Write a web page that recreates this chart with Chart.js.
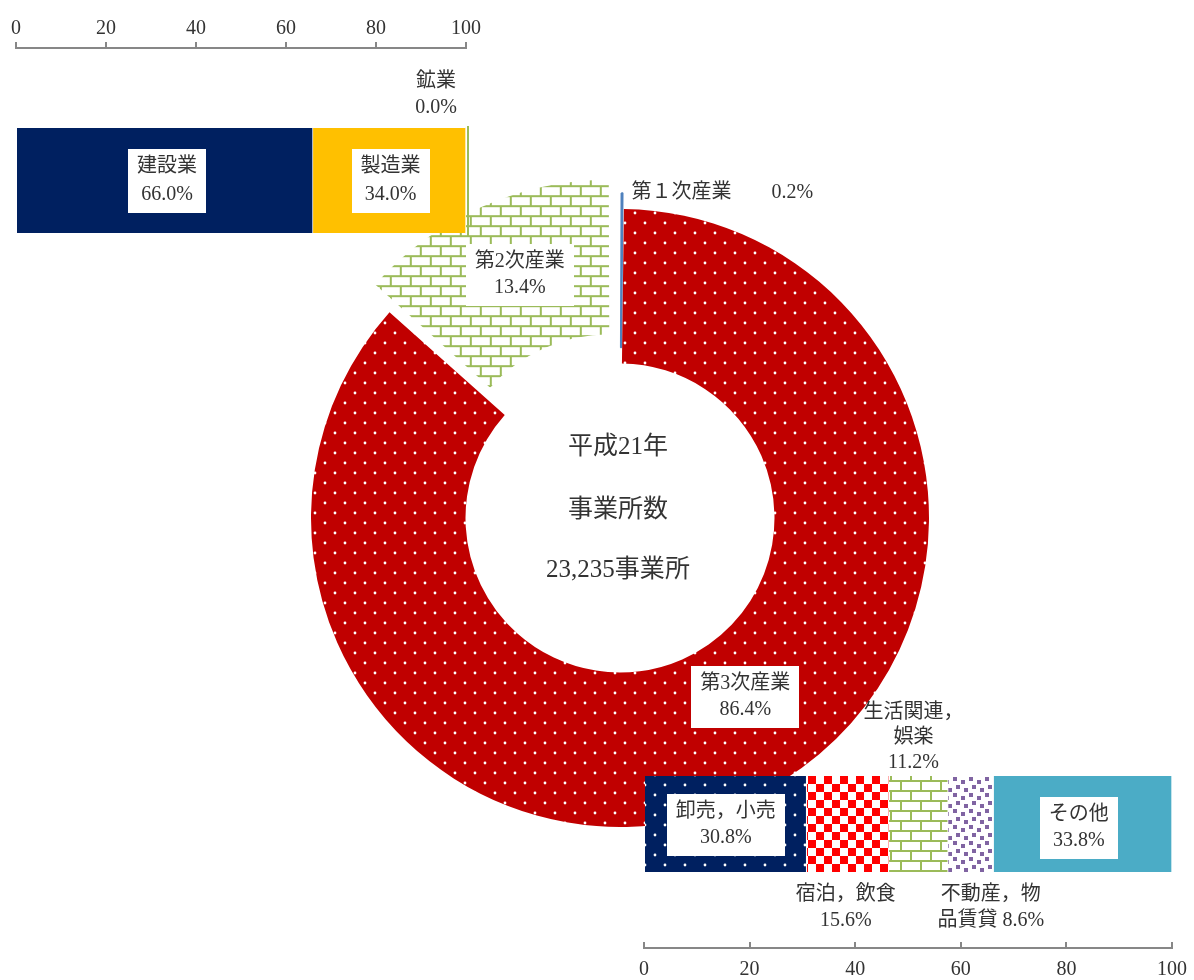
<!DOCTYPE html>
<html lang="ja">
<head>
<meta charset="UTF-8">
<title>事業所数 産業別構成比（平成21年）</title>
<script src="https://cdn.jsdelivr.net/npm/chart.js@4.4.1/dist/chart.umd.min.js"></script>
<style>
  html, body { margin: 0; padding: 0; background: #fff; }
  #stage { position: relative; width: 1194px; height: 980px; overflow: hidden; }
  #stage canvas { position: absolute; }
  #sectorChart { left: 270px; top: 168px; }
  #secondaryChart { left: 0; top: 0; }
  #tertiaryChart { left: 600px; top: 680px; }
</style>
</head>
<body>
<div id="stage">
  <canvas id="sectorChart" width="700" height="700"></canvas>
  <canvas id="secondaryChart" width="500" height="330"></canvas>
  <canvas id="tertiaryChart" width="614" height="300"></canvas>
</div>
<script>
// 産業3部門の構成比（%）: 12時から時計回りの並び
const sectorNames = ['第１次産業', '第3次産業', '第2次産業'];
const sectorShares = [0.2, 86.4, 13.4];
const centerTitle = ['平成21年', '事業所数'];
const totalEstablishments = 23235;

// 第2次産業の内訳（%）
const secondaryNames = ['建設業', '製造業', '鉱業'];
const secondaryShares = [66.0, 34.0, 0.0];

// 第3次産業の内訳（%）
const tertiaryNames = ['卸売，小売', '宿泊，飲食', '生活関連，\n娯楽', '不動産，物\n品賃貸', 'その他'];
const tertiaryShares = [30.8, 15.6, 11.2, 8.6, 33.8];

const axisTicks = [0, 20, 40, 60, 80, 100];

const COLORS = {
    navy: '#002060',
    gold: '#FFC000',
    green: '#9BBB59',
    blue: '#4F81BD',
    darkRed: '#C00000',
    red: '#FF0000',
    purple: '#8064A2',
    teal: '#4BACC6',
    text: '#333333',
    axis: '#878787'
};

const SERIF = '"Liberation Serif", "Noto Sans CJK JP", serif';

// 塗りパターン
function tile(w, h, paint) {
    const c = document.createElement('canvas');
    c.width = w;
    c.height = h;
    const g = c.getContext('2d');
    paint(g, w, h);
    return g.createPattern(c, 'repeat');
}

function dotted(bg) {
    return tile(20, 20, (g) => {
        g.fillStyle = bg;
        g.fillRect(0, 0, 20, 20);
        g.fillStyle = '#fff';
        [[5, 5], [15, 15]].forEach(([x, y]) => {
            g.beginPath();
            g.arc(x, y, 1.4, 0, Math.PI * 2);
            g.fill();
        });
    });
}

const brick = tile(20, 20, (g) => {
    g.fillStyle = '#fff';
    g.fillRect(0, 0, 20, 20);
    g.fillStyle = COLORS.green;
    g.fillRect(0, 0, 20, 2);
    g.fillRect(0, 10, 20, 2);
    g.fillRect(0, 2, 2, 8);
    g.fillRect(10, 12, 2, 8);
});

const checker = tile(16, 16, (g) => {
    g.fillStyle = '#fff';
    g.fillRect(0, 0, 16, 16);
    g.fillStyle = COLORS.red;
    g.fillRect(0, 0, 8, 8);
    g.fillRect(8, 8, 8, 8);
});

const confetti = tile(16, 16, (g) => {
    g.fillStyle = '#fff';
    g.fillRect(0, 0, 16, 16);
    g.fillStyle = COLORS.purple;
    [[1, 1], [9, 4], [4, 9], [12, 12]].forEach(([x, y]) => g.fillRect(x, y, 4, 4));
});

const redDots = dotted(COLORS.darkRed);
const navyDots = dotted(COLORS.navy);

// ラベル文字列
const pct = (v) => v.toFixed(1) + '%';
const stacked = (name, v) => [...name.split('\n'), pct(v)];
const inline = (name, v, sep) => {
    const parts = name.split('\n');
    parts[parts.length - 1] += sep + pct(v);
    return parts;
};

function drawLabel(ctx, x, y, lines, opt) {
    const lh = opt.lineHeight || 26;
    const padY = opt.padY ?? 5;
    ctx.font = `${opt.size || 20}px ${SERIF}`;
    const w = Math.max(...lines.map((t) => ctx.measureText(t).width));
    const h = lines.length * lh;
    if (opt.box) {
        ctx.fillStyle = '#fff';
        ctx.fillRect(Math.round(x - w / 2 - 9), Math.round(y - h / 2 - padY),
            Math.round(w + 18), Math.round(h + padY * 2));
    }
    ctx.fillStyle = COLORS.text;
    ctx.textBaseline = 'middle';
    ctx.textAlign = opt.align || 'center';
    lines.forEach((t, i) => ctx.fillText(t, x, y - h / 2 + lh * (i + 0.5)));
}

const segmentLabels = {
    id: 'segmentLabels',
    afterDatasetsDraw(chart, args, opts) {
        const ctx = chart.ctx;
        ctx.save();
        (opts.items || []).forEach((it) => {
            const el = chart.getDatasetMeta(it.ds || 0).data[it.idx || 0];
            const p = el.getCenterPoint();
            drawLabel(ctx, p.x + (it.dx || 0), p.y + (it.dy || 0), it.lines, it);
        });
        ctx.restore();
    }
};

// 値0の鉱業を縦線で示す
const zeroMarker = {
    id: 'zeroMarker',
    afterDatasetsDraw(chart, args, opts) {
        const el = chart.getDatasetMeta(opts.ds).data[0];
        const ctx = chart.ctx;
        ctx.save();
        ctx.strokeStyle = COLORS.green;
        ctx.lineWidth = 2;
        ctx.beginPath();
        ctx.moveTo(el.x + 2, el.y - el.height / 2 - 2);
        ctx.lineTo(el.x + 2, el.y + el.height / 2 + 4);
        ctx.stroke();
        ctx.restore();
    }
};

const centerText = {
    id: 'centerText',
    afterDraw(chart) {
        const arc = chart.getDatasetMeta(0).data[1];
        const ctx = chart.ctx;
        const lines = [...centerTitle, totalEstablishments.toLocaleString('en-US') + '事業所'];
        const offsets = [-71, -8, 52];
        ctx.save();
        ctx.font = `25px ${SERIF}`;
        ctx.fillStyle = COLORS.text;
        ctx.textAlign = 'center';
        ctx.textBaseline = 'middle';
        lines.forEach((t, i) => ctx.fillText(t, arc.x - 2, arc.y + offsets[i]));
        ctx.restore();
    }
};

// 0〜100の目盛軸。高さは固定してグラフ位置を揃える
function percentAxis(position, padding, tickLength, height) {
    return {
        type: 'linear',
        position,
        min: 0,
        max: 100,
        stacked: true,
        afterBuildTicks: (scale) => { scale.ticks = axisTicks.map((value) => ({ value })); },
        afterFit: (scale) => { scale.height = height; },
        grid: { drawOnChartArea: false, color: COLORS.axis, lineWidth: 2, tickLength },
        border: { color: COLORS.axis, width: 2 },
        ticks: {
            padding,
            autoSkip: false,
            maxRotation: 0,
            color: COLORS.text,
            font: { family: SERIF, size: 20 }
        }
    };
}

function barSet(label, value, color, thickness) {
    return {
        label,
        data: [value],
        backgroundColor: color,
        borderColor: '#fff',
        borderWidth: { right: 1 },
        barThickness: thickness
    };
}

const common = {
    responsive: false,
    animation: false,
    events: []
};

// 産業3部門（ドーナツ）
new Chart(document.getElementById('sectorChart'), {
    type: 'doughnut',
    data: {
        labels: sectorNames,
        datasets: [{
            data: sectorShares,
            backgroundColor: [COLORS.blue, redDots, brick],
            borderColor: [COLORS.blue, COLORS.darkRed, COLORS.green],
            borderWidth: [1.5, 0, 0],
            offset: [32, 0, 100]
        }]
    },
    options: {
        ...common,
        radius: 309,
        cutout: '50%',
        rotation: 0,
        plugins: {
            legend: { display: false },
            tooltip: { enabled: false },
            segmentLabels: {
                items: [
                    { idx: 0, lines: inline(sectorNames[0], sectorShares[0], '　　'), align: 'left', dx: 10, dy: -78 },
                    { idx: 1, lines: stacked(sectorNames[1], sectorShares[1]), box: true, dx: 32, dy: -33 },
                    { idx: 2, lines: stacked(sectorNames[2], sectorShares[2]), box: true, dx: 15, dy: 14 }
                ]
            }
        }
    },
    plugins: [segmentLabels, centerText]
});

// 第2次産業の内訳（上の帯グラフ）
new Chart(document.getElementById('secondaryChart'), {
    type: 'bar',
    data: {
        labels: [sectorNames[2]],
        datasets: [
            barSet(secondaryNames[0], secondaryShares[0], COLORS.navy, 105),
            barSet(secondaryNames[1], secondaryShares[1], COLORS.gold, 105),
            barSet(secondaryNames[2], secondaryShares[2], COLORS.green, 105)
        ]
    },
    options: {
        ...common,
        indexAxis: 'y',
        layout: { padding: { left: 16, right: 34, top: 16, bottom: 17 } },
        scales: {
            x: percentAxis('top', 1, 6, 32),
            y: { display: false, stacked: true }
        },
        plugins: {
            legend: { display: false },
            tooltip: { enabled: false },
            zeroMarker: { ds: 2 },
            segmentLabels: {
                items: [
                    { ds: 0, lines: stacked(secondaryNames[0], secondaryShares[0]), box: true, lineHeight: 28, padY: 4, dx: 2 },
                    { ds: 1, lines: stacked(secondaryNames[1], secondaryShares[1]), box: true, lineHeight: 28, padY: 4, dx: 1 },
                    { ds: 2, lines: stacked(secondaryNames[2], secondaryShares[2]), dx: -30, dy: -86 }
                ]
            }
        }
    },
    plugins: [zeroMarker, segmentLabels]
});

// 第3次産業の内訳（下の帯グラフ）
const tertiaryFills = [navyDots, checker, brick, confetti, COLORS.teal];

new Chart(document.getElementById('tertiaryChart'), {
    type: 'bar',
    data: {
        labels: [sectorNames[1]],
        datasets: tertiaryNames.map((n, i) => barSet(n, tertiaryShares[i], tertiaryFills[i], 96))
    },
    options: {
        ...common,
        indexAxis: 'y',
        layout: { padding: { left: 44, right: 42, top: 20, bottom: 1 } },
        scales: {
            x: percentAxis('bottom', 16, -6, 31),
            y: { display: false, stacked: true }
        },
        plugins: {
            legend: { display: false },
            tooltip: { enabled: false },
            segmentLabels: {
                items: [
                    { ds: 0, lines: stacked(tertiaryNames[0], tertiaryShares[0]), box: true, dy: 1 },
                    { ds: 1, lines: stacked(tertiaryNames[1], tertiaryShares[1]), dx: -2, dy: 84 },
                    { ds: 2, lines: stacked(tertiaryNames[2], tertiaryShares[2]), lineHeight: 25, dx: -5, dy: -86 },
                    { ds: 3, lines: inline(tertiaryNames[3], tertiaryShares[3], ' '), dx: 20, dy: 84 },
                    { ds: 4, lines: stacked(tertiaryNames[4], tertiaryShares[4]), box: true, dx: -4, dy: 4 }
                ]
            }
        }
    },
    plugins: [segmentLabels]
});
</script>
</body>
</html>
